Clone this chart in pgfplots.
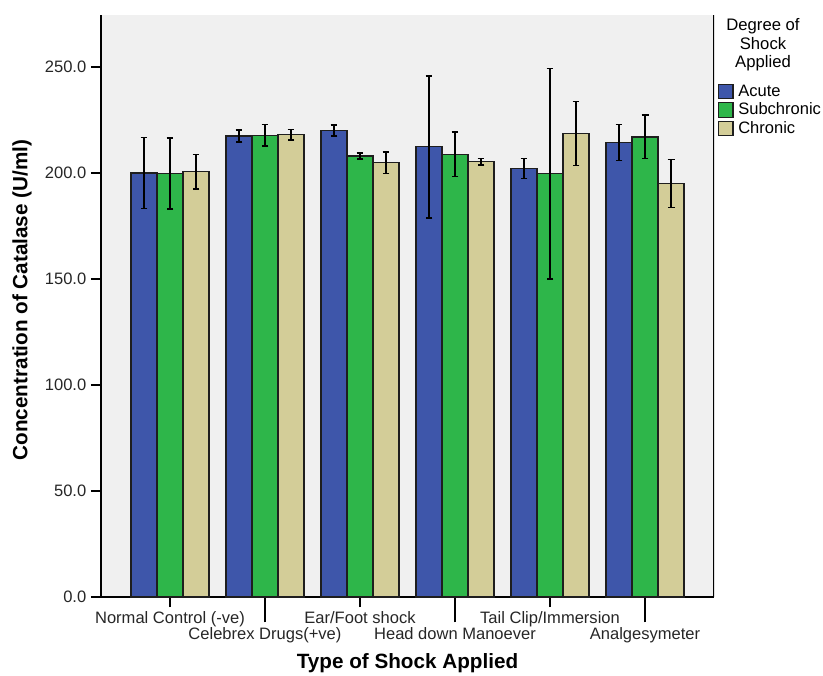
\documentclass[border=0pt]{standalone}
\usepackage{pgfplots}
\pgfplotsset{compat=1.18}
\usepackage{fontspec}
\setmainfont{Liberation Sans}

\definecolor{acute}{RGB}{62,86,170}
\definecolor{subchronic}{RGB}{46,182,74}
\definecolor{chronic}{RGB}{211,205,152}
\definecolor{panel}{RGB}{240,240,240}
\definecolor{barline}{RGB}{30,30,30}

\begin{document}
\begin{tikzpicture}[x=0.75pt,y=0.75pt]
\useasboundingbox (-101,-78) rectangle (722,597);
\begin{axis}[
  at={(0,0)}, anchor=south west,
  scale only axis, width=459.75pt, height=436.5pt,
  xmin=-0.726, xmax=5.726, ymin=0, ymax=274.5,
  axis background/.style={fill=panel},
  axis x line*=bottom, axis y line*=left,
  axis line style={black, line width=1pt, -},
  ybar=0pt, bar width=19.5pt,
  tick align=outside, major tick length=7.5pt,
  tick style={black, line width=0.9pt},
  ytick={0,50,...,250},
  yticklabel style={/pgf/number format/.cd, fixed, fixed zerofill, precision=1},
  /pgf/number format/assume math mode=true,
  ticklabel style={font=\fontsize{12.4}{14}\selectfont, text=black!85},
  xtick={0,2,4},
  xticklabels={Normal Control (-ve), Ear/Foot shock, Tail Clip/Immersion},
  extra x ticks={1,3,5},
  extra x tick labels={Celebrex Drugs(+ve), Head down Manoever, Analgesymeter},
  extra x tick style={major tick length=19pt},
  xlabel={\bfseries Type of Shock Applied},
  ylabel={\bfseries Concentration of Catalase (U/ml)},
  label style={font=\fontsize{15.5}{18}\selectfont},
  xlabel style={at={(axis description cs:0.5,-0.1134)}, anchor=center},
  ylabel style={at={(axis description cs:-0.1289,0.5103)}, anchor=center, rotate=0},
  every axis plot/.append style={draw=barline, line width=0.9pt},
  error bars/y dir=both, error bars/y explicit,
  error bars/error bar style={black, line width=1.1pt},
  error bars/error mark options={black, line width=1.1pt, mark size=2.6pt, rotate=90},
  legend style={at={(axis description cs:1.006,0.885)}, anchor=north west,
    draw=none, fill=none, inner sep=0pt, row sep=0pt,
    nodes={inner sep=0pt, minimum height=13.9pt, anchor=west},
    font=\fontsize{12.4}{14}\selectfont, legend cell align=left,
    /tikz/every even column/.append style={column sep=0pt}},
  legend image code/.code={\draw[#1, draw=barline, line width=0.9pt] (0pt,-5.4pt) rectangle (10.9pt,5.4pt);},
]
\addplot[fill=acute] coordinates {
  (0,200.0) +- (0,16.7)
  (1,217.4) +- (0,2.9)
  (2,220.0) +- (0,2.6)
  (3,212.3) +- (0,33.5)
  (4,202.0) +- (0,4.7)
  (5,214.3) +- (0,8.5)
};
\addplot[fill=subchronic] coordinates {
  (0,199.8) +- (0,16.7)
  (1,217.8) +- (0,5.0)
  (2,208.0) +- (0,1.4)
  (3,208.8) +- (0,10.5)
  (4,199.6) +- (0,49.6)
  (5,217.0) +- (0,10.3)
};
\addplot[fill=chronic] coordinates {
  (0,200.6) +- (0,8.1)
  (1,218.0) +- (0,2.5)
  (2,204.8) +- (0,5.0)
  (3,205.3) +- (0,1.5)
  (4,218.6) +- (0,15.0)
  (5,195.1) +- (0,11.3)
};
\legend{\ Acute, \ Subchronic, \ Chronic}
\draw[black, line width=1pt] (rel axis cs:1,0) -- (rel axis cs:1,1);
\end{axis}
\node[align=center, font=\fontsize{12.5}{13.9}\selectfont] at (662,552) {Degree of\\Shock\\Applied};
\end{tikzpicture}
\end{document}
